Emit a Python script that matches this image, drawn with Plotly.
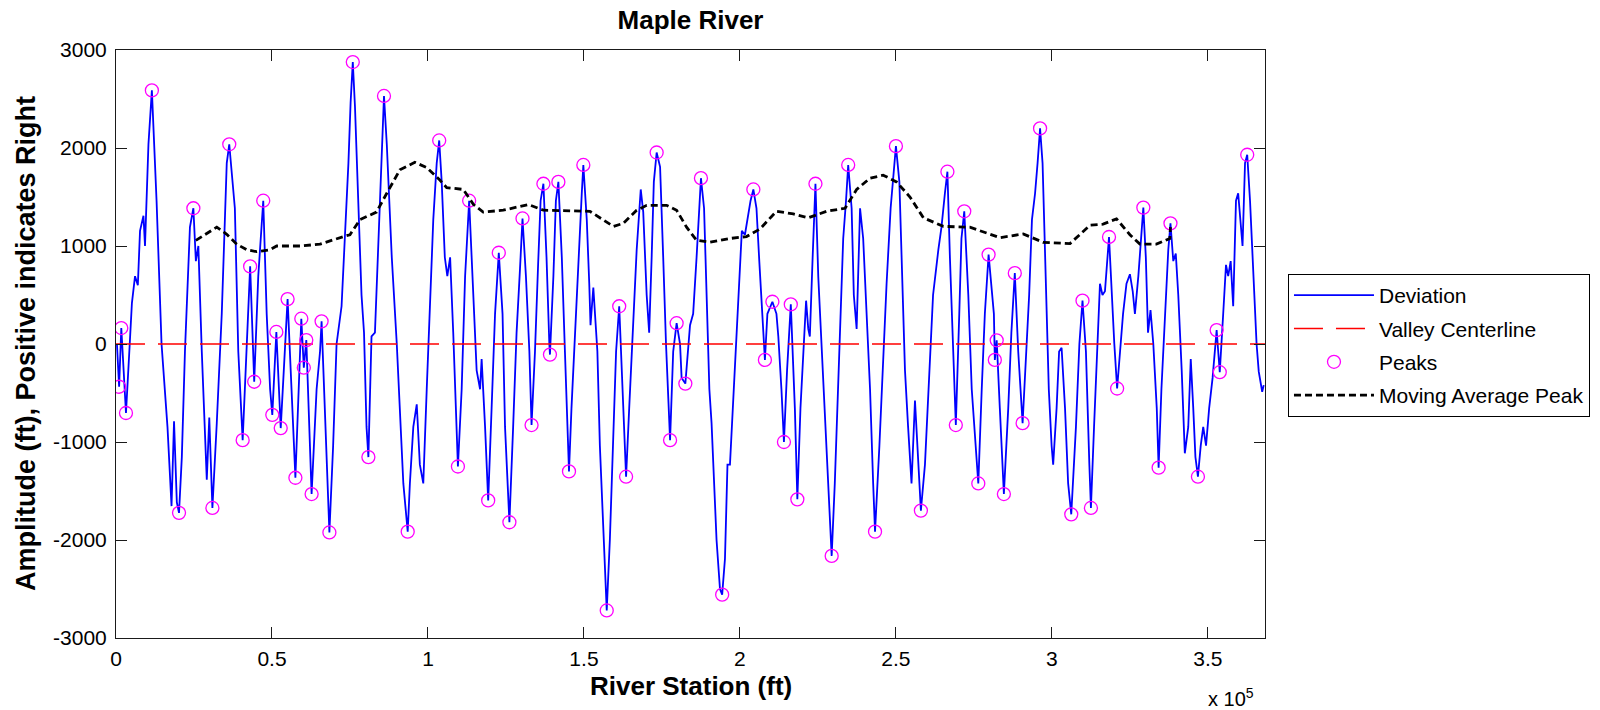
import plotly.graph_objects as go

# ---------------- data (station in units of 1e5 ft, amplitude in ft) ----------------
dev_station_e5 = [
    0.003, 0.010, 0.017, 0.024, 0.032, 0.044, 0.051, 0.061, 0.070, 0.077, 0.088, 0.093, 0.104, 0.115,
    0.130, 0.146, 0.165, 0.178, 0.186, 0.195, 0.202, 0.211, 0.221, 0.237, 0.248, 0.256, 0.264, 0.275,
    0.285, 0.291, 0.299, 0.309, 0.323, 0.339, 0.355, 0.363, 0.381, 0.392, 0.406, 0.419, 0.430, 0.443,
    0.456, 0.472, 0.483, 0.494, 0.501, 0.514, 0.528, 0.550, 0.575, 0.594, 0.602, 0.610, 0.627, 0.643,
    0.654, 0.659, 0.667, 0.675, 0.684, 0.696, 0.707, 0.723, 0.734, 0.745, 0.752, 0.759, 0.766, 0.777,
    0.787, 0.795, 0.803, 0.809, 0.819, 0.830, 0.841, 0.852, 0.859, 0.868, 0.884, 0.900, 0.910, 0.921,
    0.935, 0.942, 0.953, 0.964, 0.974, 0.985, 0.996, 1.006, 1.017, 1.028, 1.036, 1.044, 1.054, 1.062,
    1.071, 1.081, 1.090, 1.096, 1.108, 1.119, 1.132, 1.146, 1.156, 1.167, 1.172, 1.183, 1.193, 1.204,
    1.215, 1.227, 1.239, 1.247, 1.261, 1.273, 1.284, 1.295, 1.303, 1.314, 1.325, 1.332, 1.343, 1.353,
    1.361, 1.370, 1.380, 1.389, 1.391, 1.402, 1.410, 1.418, 1.429, 1.439, 1.452, 1.460, 1.471, 1.482,
    1.493, 1.498, 1.509, 1.517, 1.521, 1.530, 1.535, 1.543, 1.551, 1.562, 1.573, 1.583, 1.592, 1.603,
    1.613, 1.624, 1.635, 1.645, 1.658, 1.669, 1.682, 1.690, 1.701, 1.709, 1.717, 1.724, 1.733, 1.744,
    1.754, 1.763, 1.776, 1.786, 1.797, 1.808, 1.813, 1.825, 1.840, 1.850, 1.861, 1.869, 1.875, 1.885,
    1.893, 1.902, 1.909, 1.914, 1.925, 1.936, 1.943, 1.952, 1.960, 1.968, 1.977, 1.987, 1.998, 2.006,
    2.016, 2.027, 2.034, 2.043, 2.053, 2.062, 2.070, 2.080, 2.088, 2.104, 2.117, 2.123, 2.133, 2.141,
    2.151, 2.163, 2.176, 2.184, 2.194, 2.205, 2.212, 2.219, 2.224, 2.233, 2.242, 2.251, 2.265, 2.278,
    2.288, 2.294, 2.304, 2.315, 2.324, 2.331, 2.340, 2.347, 2.358, 2.365, 2.374, 2.385, 2.395, 2.406,
    2.417, 2.427, 2.433, 2.447, 2.459, 2.470, 2.483, 2.491, 2.500, 2.511, 2.521, 2.529, 2.539, 2.550,
    2.561, 2.568, 2.577, 2.580, 2.593, 2.607, 2.619, 2.636, 2.646, 2.657, 2.665, 2.673, 2.684, 2.692,
    2.703, 2.710, 2.719, 2.732, 2.743, 2.756, 2.764, 2.775, 2.785, 2.797, 2.814, 2.817, 2.823, 2.833,
    2.846, 2.860, 2.870, 2.881, 2.892, 2.906, 2.917, 2.927, 2.936, 2.946, 2.954, 2.962, 2.970, 2.981,
    2.990, 2.999, 3.004, 3.015, 3.023, 3.031, 3.042, 3.052, 3.062, 3.077, 3.088, 3.098, 3.109, 3.120,
    3.125, 3.135, 3.146, 3.154, 3.162, 3.170, 3.183, 3.191, 3.200, 3.209, 3.220, 3.228, 3.239, 3.250,
    3.259, 3.266, 3.277, 3.285, 3.293, 3.301, 3.308, 3.316, 3.325, 3.336, 3.342, 3.351, 3.362, 3.373,
    3.380, 3.389, 3.397, 3.405, 3.416, 3.426, 3.437, 3.445, 3.453, 3.460, 3.468, 3.477, 3.485, 3.494,
    3.504, 3.515, 3.528, 3.538, 3.549, 3.558, 3.565, 3.573, 3.581, 3.590, 3.597, 3.611, 3.619, 3.626,
    3.635, 3.645, 3.651, 3.656, 3.663, 3.674, 3.679,
]
dev_amplitude = [
    0, -436, 163, -200, -704, 0, 418, 692, 600, 1154, 1308, 1000, 2038, 2588,
    1462, 0, -846, -1654, -788, -1615, -1723, -1154, -77, 1192, 1385, 846, 1000, -77,
    -1038, -1385, -750, -1673, -808, 308, 1846, 2038, 1385, -77, -981, -77, 792, -385,
    692, 1462, 308, -462, -723, 123, -858, 458, -1365, 258, -242, 40, -1531, -462,
    -77, 231, -462, -1231, -1923, -1038, 0, 385, 1077, 1846, 2462, 2877, 2423, 1462,
    500, 115, -846, -1154, 77, 115, 1000, 2038, 2531, 2038, 885, 0, -654, -1423,
    -1915, -1423, -846, -615, -1231, -1423, -462, 308, 1269, 1846, 2077, 1654, 885, 692,
    885, 115, -846, -1250, -462, 692, 1462, 500, -269, -462, -154, -846, -1596, -654,
    308, 931, 308, -846, -1819, -846, 115, 769, 1281, 692, -77, -827, -77, 808,
    1462, 1635, 885, 0, -108, 692, 1462, 1654, 885, -77, -1300, -654, 115, 885,
    1538, 1827, 1269, 615, 192, 577, 308, -77, -1038, -1808, -2719, -2000, -1038, -77,
    385, -462, -1354, -654, 308, 962, 1577, 1346, 500, 115, 885, 1654, 1954, 1808,
    885, 0, -981, -77, 212, 0, -346, -404, 192, 308, 885, 1385, 1692, 1385,
    500, -462, -808, -1231, -2000, -2500, -2558, -2192, -1231, -1231, -654, 0, 692, 1154,
    1115, 1346, 1462, 1577, 1385, 846, 385, -162, 308, 431, 308, 77, -462, -1000,
    -269, 404, -654, -1585, -654, 0, 442, 154, 77, 885, 1635, 692, -269, -1038,
    -1808, -2162, -1423, -462, 308, 1077, 1462, 1827, 1385, 500, 154, 1385, 1077, 308,
    -462, -1423, -1915, -1038, -77, 615, 1385, 1731, 2019, 1654, 692, -269, -846, -1423,
    -577, -1038, -1538, -1700, -1231, -269, 500, 962, 1192, 1538, 1758, 885, -77, -827,
    308, 1077, 1354, 500, -462, -1038, -1423, -462, 308, 912, 308, -162, 38, -654,
    -1531, -654, 115, 723, -77, -808, -77, 500, 1269, 1538, 1846, 2200, 1846, 692,
    -462, -1038, -1231, -654, -77, -38, -654, -1423, -1738, -846, 0, 442, -77, -1231,
    -1673, -846, -77, 615, 500, 538, 1092, 500, 0, -454, 0, 308, 615, 712,
    538, 308, 692, 1077, 1392, 885, 115, 346, 0, -654, -1262, -462, 308, 962,
    1231, 846, 923, 500, -269, -1115, -846, -154, -654, -1154, -1354, -1038, -846, -1038,
    -654, -346, 142, -288, 308, 808, 692, 846, 385, 1462, 1538, 1000, 1846, 1931,
    1462, 744, 244, 0, -282, -487, -420,
]

peak_station_e5 = [
    0.010, 0.017, 0.032, 0.115, 0.202, 0.248, 0.309, 0.363, 0.406, 0.430, 0.443, 0.472, 0.501, 0.514,
    0.528, 0.550, 0.575, 0.594, 0.602, 0.610, 0.627, 0.659, 0.684, 0.759, 0.809, 0.859, 0.935, 1.036,
    1.096, 1.132, 1.193, 1.227, 1.261, 1.303, 1.332, 1.370, 1.391, 1.418, 1.452, 1.498, 1.573, 1.613,
    1.635, 1.733, 1.776, 1.797, 1.825, 1.875, 1.943, 2.043, 2.080, 2.104, 2.141, 2.163, 2.184, 2.242,
    2.294, 2.347, 2.433, 2.500, 2.580, 2.665, 2.692, 2.719, 2.764, 2.797, 2.817, 2.823, 2.846, 2.881,
    2.906, 2.962, 3.062, 3.098, 3.125, 3.183, 3.209, 3.293, 3.342, 3.380, 3.468, 3.528, 3.538, 3.626,
]
peak_amplitude = [
    -436, 163, -704, 2588, -1723, 1385, -1673, 2038, -981, 792, -385, 1462, -723, 123,
    -858, 458, -1365, 258, -242, 40, -1531, 231, -1923, 2877, -1154, 2531, -1915, 2077,
    -1250, 1462, -1596, 931, -1819, 1281, -827, 1635, -108, 1654, -1300, 1827, -2719, 385,
    -1354, 1954, -981, 212, -404, 1692, -2558, 1577, -162, 431, -1000, 404, -1585, 1635,
    -2162, 1827, -1915, 2019, -1700, 1758, -827, 1354, -1423, 912, -162, 38, -1531, 723,
    -808, 2200, -1738, 442, -1673, 1092, -454, 1392, -1262, 1231, -1354, 142, -288, 1931,
]

mavg_station_e5 = [
    0.256, 0.290, 0.323, 0.355, 0.387, 0.420, 0.451, 0.494, 0.515, 0.590, 0.654, 0.729, 0.750, 0.782,
    0.835, 0.868, 0.910, 0.958, 0.996, 1.038, 1.060, 1.113, 1.146, 1.177, 1.241, 1.322, 1.370, 1.519,
    1.551, 1.594, 1.626, 1.669, 1.701, 1.765, 1.797, 1.829, 1.861, 1.904, 1.968, 2.021, 2.064, 2.117,
    2.171, 2.219, 2.278, 2.337, 2.374, 2.417, 2.459, 2.502, 2.545, 2.588, 2.652, 2.737, 2.833, 2.908,
    2.972, 3.058, 3.122, 3.164, 3.207, 3.250, 3.282, 3.335, 3.378, 3.380,
]
mavg_amplitude = [
    1058, 1130, 1192, 1120, 1019, 960, 942, 962, 1000, 1000, 1019, 1096, 1115, 1269,
    1346, 1538, 1777, 1854, 1800, 1673, 1596, 1577, 1423, 1346, 1365, 1423, 1365, 1354,
    1288, 1200, 1231, 1365, 1415, 1415, 1365, 1192, 1058, 1038, 1077, 1096, 1173, 1354,
    1327, 1288, 1354, 1385, 1577, 1692, 1723, 1654, 1500, 1288, 1200, 1192, 1085, 1123,
    1038, 1025, 1212, 1223, 1277, 1115, 1019, 1019, 1077, 1192,
]

centerline_station_e5 = [0.0, 3.683]
centerline_amplitude = [0, 0]

x_tick_values_e5 = [0, 0.5, 1, 1.5, 2, 2.5, 3, 3.5]
x_tick_labels = ["0", "0.5", "1", "1.5", "2", "2.5", "3", "3.5"]
y_tick_values = [-3000, -2000, -1000, 0, 1000, 2000, 3000]
y_tick_labels = ["-3000", "-2000", "-1000", "0", "1000", "2000", "3000"]

FT = 1e5  # unit of the station arrays
def ft(vals):
    return [v * FT for v in vals]

FONT = "Liberation Sans, Arial, Helvetica, sans-serif"

fig = go.Figure()
fig.add_trace(go.Scatter(
    x=ft(dev_station_e5), y=dev_amplitude, mode="lines", name="Deviation",
    line=dict(color="#0000FF", width=1.8), legendgroup="a"))
fig.add_trace(go.Scatter(
    x=ft(centerline_station_e5), y=centerline_amplitude, mode="lines", name="Valley Centerline",
    line=dict(color="#FF0000", width=1.6, dash="29px,13px"), legendgroup="b"))
fig.add_trace(go.Scatter(
    x=ft(peak_station_e5), y=peak_amplitude, mode="markers", name="Peaks",
    marker=dict(symbol="circle-open", size=13, color="#FF00FF", line=dict(width=1.3, color="#FF00FF")),
    legendgroup="c"))
fig.add_trace(go.Scatter(
    x=ft(mavg_station_e5), y=mavg_amplitude, mode="lines", name="Moving Average Peak",
    line=dict(color="#000000", width=2.8, dash="7px,4px"), legendgroup="d"))

axis_common = dict(
    showgrid=False, zeroline=False, showline=True, linecolor="#1a1a1a", linewidth=1,
    mirror="ticks", ticks="inside", ticklen=11, tickwidth=1, tickcolor="#1a1a1a",
    tickfont=dict(family=FONT, size=21, color="#000000"),
)

fig.update_layout(
    width=1600, height=710,
    margin=dict(l=116, r=335, t=50, b=72, autoexpand=False),
    paper_bgcolor="white", plot_bgcolor="white",
    font=dict(family=FONT, color="#000000"),
    title=dict(text="<b>Maple River</b>", x=0.5, xref="paper", xanchor="center",
               y=1 - 20 / 710, yref="container", yanchor="middle",
               font=dict(family=FONT, size=26, color="#000000")),
    xaxis=dict(range=[0, 3.683 * FT], tickvals=ft(x_tick_values_e5), ticktext=x_tick_labels,
               ticklabelstandoff=2, **axis_common),
    yaxis=dict(range=[-3000, 3000], tickvals=y_tick_values, ticktext=y_tick_labels,
               ticklabelstandoff=4, **axis_common),
    showlegend=True,
    legend=dict(x=1.02, xref="paper", xanchor="left", y=0.619, yanchor="top",
                bordercolor="#000000", borderwidth=1, bgcolor="white",
                font=dict(family=FONT, size=21, color="#000000"),
                itemwidth=80, tracegroupgap=3, traceorder="grouped"),
    annotations=[
        dict(text="<b>River Station (ft)</b>", xref="paper", yref="paper", x=0.5, y=(638 - 686) / 588,
             xanchor="center", yanchor="middle", showarrow=False,
             font=dict(family=FONT, size=26, color="#000000")),
        dict(text="<b>Amplitude (ft), Positive indicates Right</b>", xref="paper", yref="paper",
             x=(26 - 116) / 1149, y=0.5, xanchor="center", yanchor="middle", textangle=-90,
             showarrow=False, font=dict(family=FONT, size=27, color="#000000")),
        dict(text="x 10<sup>5</sup>", xref="paper", yref="paper", x=0.97, y=(638 - 698) / 588,
             xanchor="center", yanchor="middle", showarrow=False,
             font=dict(family=FONT, size=20, color="#000000")),
    ],
)

fig.write_html("out.html")
